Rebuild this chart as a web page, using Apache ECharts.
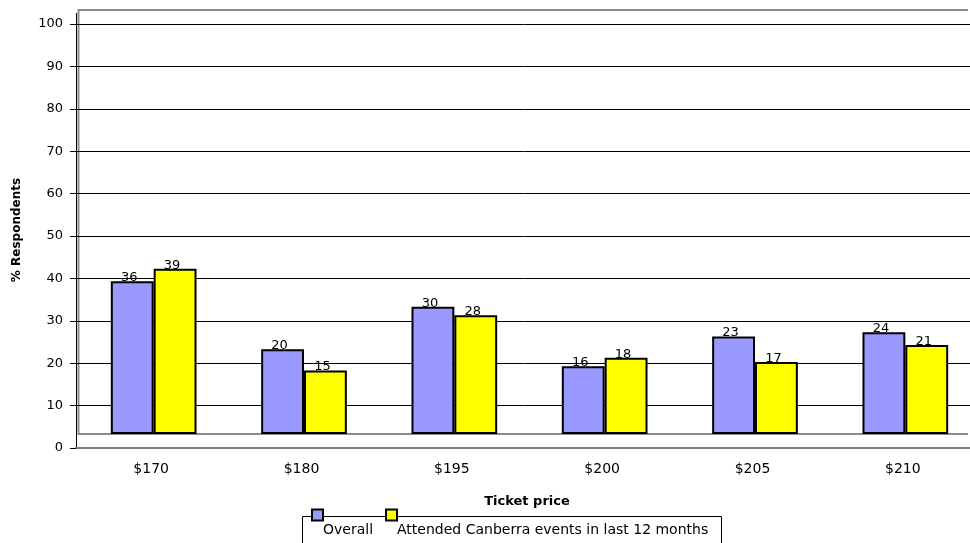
<!DOCTYPE html>
<html>
<head>
<meta charset="utf-8">
<script src="https://cdn.jsdelivr.net/npm/echarts@6/dist/echarts.min.js"></script>
<style>
  html, body { margin: 0; padding: 0; background: #fff; overflow: hidden; }
  #chart { width: 970px; height: 543px; }
</style>
</head>
<body>
<div id="chart"></div>
<script>
// Survey results: share of respondents willing to pay each ticket price
const categories = ['$170', '$180', '$195', '$200', '$205', '$210'];
const overall = [36, 20, 30, 16, 23, 24];
const attended = [39, 15, 28, 18, 17, 21];
const seriesNames = ['Overall', 'Attended Canberra events in last 12 months'];
const yMin = 0;
const yMax = 100;
const yStep = 10;

const FONT = 'DejaVu Sans';
// back wall of the pseudo-3D plot (columns stand on its floor)
const WALL = { left: 78.5, top: 10, width: 902, height: 424 };

const chart = echarts.init(document.getElementById('chart'), null, { renderer: 'canvas' });

const barLabel = {
  show: true,
  position: 'top',
  distance: -3,
  offset: [-3, 0],
  fontFamily: FONT,
  fontSize: 13,
  color: '#000'
};

// the wall runs on to the right edge of the canvas
const wallRight = chart.getWidth() - 2;
const floorY = WALL.top + WALL.height;
const wallLine = { stroke: '#8c8c8c', lineWidth: 2 };

const option = {
  animation: false,
  backgroundColor: '#fff',
  grid: [
    // front plane: value axis, gridlines and category axis
    { left: 76, top: 24, width: 902, height: 424, show: false, outerBoundsMode: 'none', containLabel: false },
    // back plane holding the columns
    { left: WALL.left, top: WALL.top, width: WALL.width, height: WALL.height, show: false,
      outerBoundsMode: 'none', containLabel: false }
  ],
  xAxis: [
    {
      type: 'category', gridIndex: 0, data: categories,
      name: 'Ticket price', nameLocation: 'middle', nameGap: 47,
      nameTextStyle: { fontFamily: FONT, fontWeight: 'bold', fontSize: 13, color: '#000' },
      axisLine: { lineStyle: { color: '#808080', width: 2 } },
      axisTick: { length: 5, lineStyle: { color: '#808080' } },
      axisLabel: { fontFamily: FONT, fontSize: 14, color: '#000', margin: 14 },
      splitLine: { show: false }
    },
    { type: 'category', gridIndex: 1, data: categories, show: false }
  ],
  yAxis: [
    {
      type: 'value', gridIndex: 0, min: yMin, max: yMax, interval: yStep,
      name: '% Respondents', nameLocation: 'middle', nameGap: 53,
      nameTextStyle: { fontFamily: FONT, fontWeight: 'bold', fontSize: 12, color: '#000', padding: [0, 0, 0, 12] },
      axisLine: { show: true, lineStyle: { color: '#000', width: 1 } },
      axisTick: { show: true, length: 6, lineStyle: { color: '#000' } },
      axisLabel: { fontFamily: FONT, fontSize: 13, color: '#000', margin: 13 },
      splitLine: { show: true, showMinLine: false, lineStyle: { color: '#000', width: 1 } }
    },
    { type: 'value', gridIndex: 1, min: yMin, max: yMax, show: false }
  ],
  legend: {
    left: 311, top: 508.5, padding: 0,
    data: seriesNames,
    icon: 'rect', itemWidth: 11, itemHeight: 11, itemGap: 12,
    itemStyle: { borderColor: '#000', borderWidth: 2 },
    formatter: '{t|{name}}',
    textStyle: {
      fontFamily: FONT, fontSize: 14, color: '#000',
      rich: { t: { fontFamily: FONT, fontSize: 14, color: '#000', padding: [31, 0, 0, -5] } }
    }
  },
  graphic: [
    // wall outline: top edge, left edge and floor
    { type: 'line', z: 0, silent: true, shape: { x1: WALL.left, y1: WALL.top, x2: wallRight, y2: WALL.top }, style: wallLine },
    { type: 'line', z: 0, silent: true, shape: { x1: WALL.left, y1: WALL.top - 1, x2: WALL.left, y2: floorY + 1 }, style: wallLine },
    { type: 'line', z: 0, silent: true, shape: { x1: WALL.left, y1: floorY, x2: wallRight, y2: floorY }, style: wallLine },
    // upper end of the value axis line reaching the wall top
    {
      type: 'line', z: 0, silent: true,
      shape: { x1: 76.5, y1: 13, x2: 76.5, y2: 24 },
      style: { stroke: '#000', lineWidth: 1 }
    },
    // legend frame
    {
      type: 'rect', z: 1, silent: true,
      shape: { x: 302.5, y: 516.5, width: 419, height: 40 },
      style: { fill: '#fff', stroke: '#000', lineWidth: 1 }
    }
  ],
  series: [
    {
      type: 'bar', name: seriesNames[0], xAxisIndex: 1, yAxisIndex: 1,
      data: overall, barGap: '0%', barCategoryGap: '43%',
      itemStyle: { color: '#9999FF', borderColor: '#000', borderWidth: 2 },
      label: barLabel
    },
    {
      type: 'bar', name: seriesNames[1], xAxisIndex: 1, yAxisIndex: 1,
      data: attended, barGap: '0%', barCategoryGap: '43%',
      itemStyle: { color: '#FFFF00', borderColor: '#000', borderWidth: 2 },
      label: barLabel
    }
  ]
};

chart.setOption(option);
</script>
</body>
</html>
